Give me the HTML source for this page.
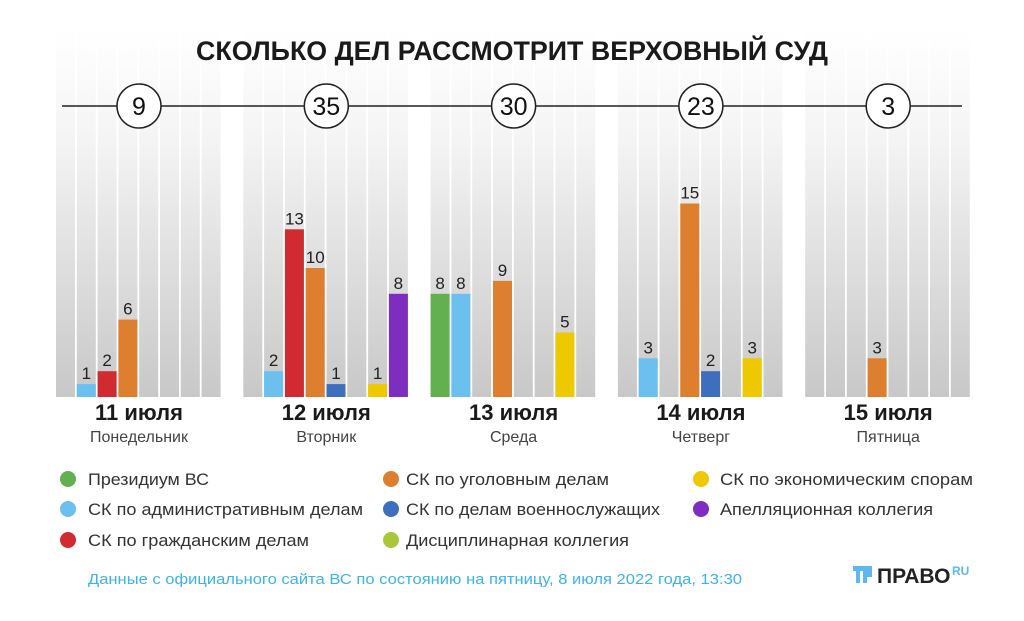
<!DOCTYPE html>
<html><head><meta charset="utf-8"><style>
html,body{margin:0;padding:0;background:#fff;}
svg{display:block;font-family:"Liberation Sans","DejaVu Sans",sans-serif;}
</style></head><body>
<svg id="s" width="1024" height="621" viewBox="0 0 1024 621" xmlns="http://www.w3.org/2000/svg">
<defs><linearGradient id="g" x1="0" y1="0" x2="0" y2="1">
<stop offset="0" stop-color="#ffffff"/><stop offset="0.3" stop-color="#f4f4f4"/><stop offset="1" stop-color="#c8c8c8"/></linearGradient></defs>
<g id="bg"></g>
<text x="512" y="60" text-anchor="middle" font-size="27" font-weight="bold" fill="#1a1a1a" textLength="632" lengthAdjust="spacingAndGlyphs">СКОЛЬКО ДЕЛ РАССМОТРИТ ВЕРХОВНЫЙ СУД</text>
<line x1="62" y1="106" x2="962" y2="106" stroke="#222" stroke-width="1.5"/>
<g id="fg"></g>
<g font-size="17" fill="#333" lengthAdjust="spacingAndGlyphs">
<circle cx="68" cy="479" r="8" fill="#62b04f"/><text x="88" y="485" textLength="121" lengthAdjust="spacingAndGlyphs">Президиум ВС</text>
<circle cx="68" cy="509" r="8" fill="#6cc0ef"/><text x="88" y="515" textLength="275" lengthAdjust="spacingAndGlyphs">СК по административным делам</text>
<circle cx="68" cy="540" r="8" fill="#d12a30"/><text x="88" y="546" textLength="221" lengthAdjust="spacingAndGlyphs">СК по гражданским делам</text>
<circle cx="391" cy="479" r="8" fill="#dd7f2e"/><text x="406" y="485" textLength="203" lengthAdjust="spacingAndGlyphs">СК по уголовным делам</text>
<circle cx="391" cy="509" r="8" fill="#3e6fbf"/><text x="406" y="515" textLength="254" lengthAdjust="spacingAndGlyphs">СК по делам военнослужащих</text>
<circle cx="391" cy="540" r="8" fill="#a8c83a"/><text x="406" y="546" textLength="223" lengthAdjust="spacingAndGlyphs">Дисциплинарная коллегия</text>
<circle cx="701" cy="479" r="8" fill="#efc900"/><text x="720" y="485" textLength="253" lengthAdjust="spacingAndGlyphs">СК по экономическим спорам</text>
<circle cx="701" cy="509" r="8" fill="#7e2ebf"/><text x="720" y="515" textLength="213" lengthAdjust="spacingAndGlyphs">Апелляционная коллегия</text>
</g>
<text x="88" y="584" font-size="15" fill="#3cb4e6" textLength="654" lengthAdjust="spacingAndGlyphs">Данные с официального сайта ВС по состоянию на пятницу, 8 июля 2022 года, 13:30</text>
<g fill="#5bb8f0"><rect x="853" y="566" width="18" height="5"/><rect x="856" y="566" width="4" height="17"/><rect x="863" y="566" width="4" height="17"/><rect x="867" y="566" width="5" height="11"/></g>
<text x="877" y="583" font-size="21" font-weight="bold" fill="#222">ПРАВО</text>
<text x="952" y="575" font-size="12" font-weight="bold" fill="#5bb8f0">RU</text>
</svg>
<script>
var bg=document.getElementById('bg'),fg=document.getElementById('fg'),NS='http://www.w3.org/2000/svg';
function el(p,t,a,txt){var e=document.createElementNS(NS,t);for(var k in a)e.setAttribute(k,a[k]);if(txt!=null)e.textContent=txt;p.appendChild(e);return e;}
var cols=['#62b04f','#6cc0ef','#d12a30','#dd7f2e','#3e6fbf','#a8c83a','#efc900','#7e2ebf'];
var data=[{1:1,2:2,3:6},{1:2,2:13,3:10,4:1,6:1,7:8},{0:8,1:8,3:9,6:5},{1:3,3:15,4:2,6:3},{3:3}];
var tot=[9,35,30,23,3],dates=['11 июля','12 июля','13 июля','14 июля','15 июля'],days=['Понедельник','Вторник','Среда','Четверг','Пятница'];
var base=397,u=12.9,stride=20.8,w=19;
for(var gi=0;gi<5;gi++){
 var x0=56+gi*187.3;
 for(var c=0;c<8;c++){
  var x=x0+c*stride;
  el(bg,'rect',{x:x,y:30,width:w,height:base-30,fill:'url(#g)'});
  if(data[gi][c]!=null){var v=data[gi][c],h=v*u;
   el(fg,'rect',{x:x,y:base-h,width:w,height:h,fill:cols[c]});
   el(fg,'text',{x:x+w/2,y:base-h-5,'text-anchor':'middle','font-size':17,fill:'#222'},v);}
 }
 var cx=x0+83;
 el(fg,'circle',{cx:cx,cy:106,r:22,fill:'#fff',stroke:'#222','stroke-width':1.5});
 el(fg,'text',{x:cx,y:115,'text-anchor':'middle','font-size':25,fill:'#111'},tot[gi]);
 el(fg,'text',{x:cx,y:420,'text-anchor':'middle','font-size':22,'font-weight':'bold',fill:'#1a1a1a'},dates[gi]);
 el(fg,'text',{x:cx,y:442,'text-anchor':'middle','font-size':16,fill:'#444'},days[gi]);
}
</script>
</body></html>
